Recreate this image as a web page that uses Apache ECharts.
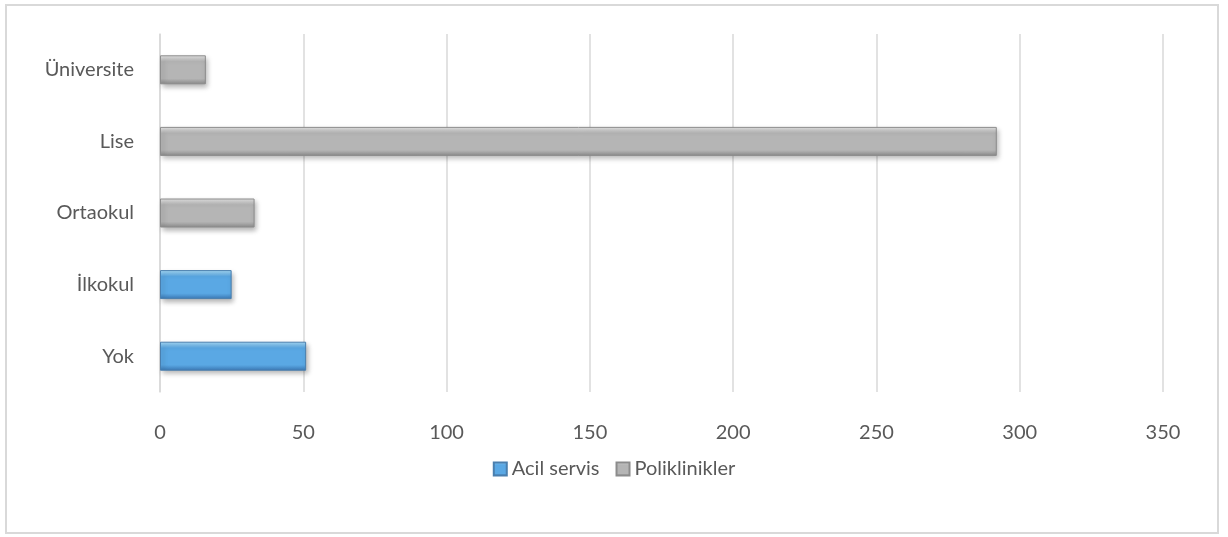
<!DOCTYPE html>
<html>
<head>
<meta charset="utf-8">
<script src="https://cdn.jsdelivr.net/npm/echarts@6/dist/echarts.min.js"></script>
<style>
  html, body { margin: 0; padding: 0; background: #fff; }
  #chart { width: 1228px; height: 537px; }
</style>
</head>
<body>
<div id="chart"></div>
<script>
// data
const categories = ["Yok", "İlkokul", "Ortaokul", "Lise", "Üniversite"];
const acilServis = [51, 25, null, null, null];
const poliklinikler = [null, null, 33, 292, 16];
const seriesNames = ["Acil servis", "Poliklinikler"];
const xTicks = [0, 50, 100, 150, 200, 250, 300, 350];

const chart = echarts.init(document.getElementById("chart"));

function bevel(top, mid, bottom) {
  return new echarts.graphic.LinearGradient(0, 0, 0, 1, [
    { offset: 0, color: top },
    { offset: 0.22, color: mid },
    { offset: 0.8, color: mid },
    { offset: 1, color: bottom }
  ]);
}

const textColor = "#595959";
const font = "Lato, 'Open Sans', sans-serif";

const option = {
  animation: false,
  textStyle: { fontFamily: font },
  graphic: [{
    type: "rect",
    shape: { x: 6, y: 5, width: 1212, height: 528 },
    style: { fill: "none", stroke: "#d9d9d9", lineWidth: 2 },
    silent: true
  }],
  grid: { left: 160, right: 65, top: 34, bottom: 145 },
  legend: {
    top: 454,
    left: "center",
    icon: "rect",
    itemWidth: 13,
    itemHeight: 13,
    itemGap: 16,
    textStyle: { color: textColor, fontSize: 20, fontFamily: font },
    data: seriesNames
  },
  xAxis: {
    type: "value",
    min: xTicks[0],
    max: xTicks[xTicks.length - 1],
    interval: 50,
    axisLine: { show: false },
    axisTick: { show: false },
    axisLabel: { color: textColor, fontSize: 20, margin: 31, fontFamily: font },
    splitLine: { lineStyle: { color: "#d9d9d9", width: 1.5 } }
  },
  yAxis: {
    type: "category",
    data: categories,
    axisLine: { show: true, lineStyle: { color: "#d9d9d9", width: 1.5 } },
    axisTick: { show: false },
    axisLabel: { color: textColor, fontSize: 20, margin: 26, fontFamily: font }
  },
  series: [
    {
      name: seriesNames[0],
      type: "bar",
      stack: "all",
      barWidth: 29,
      data: acilServis,
      itemStyle: {
        color: bevel("#a8dcf8", "#5aa8e4", "#3a78b4"),
        borderColor: "#4a7fae",
        borderWidth: 1,
        shadowColor: "rgba(0,0,0,0.3)",
        shadowBlur: 5,
        shadowOffsetY: 3,
        shadowOffsetX: 2
      }
    },
    {
      name: seriesNames[1],
      type: "bar",
      stack: "all",
      barWidth: 29,
      data: poliklinikler,
      itemStyle: {
        color: bevel("#e6e6e6", "#b5b5b5", "#8a8a8a"),
        borderColor: "#8c8c8c",
        borderWidth: 1,
        shadowColor: "rgba(0,0,0,0.3)",
        shadowBlur: 5,
        shadowOffsetY: 3,
        shadowOffsetX: 2
      }
    }
  ]
};

chart.setOption(option);
</script>
</body>
</html>
